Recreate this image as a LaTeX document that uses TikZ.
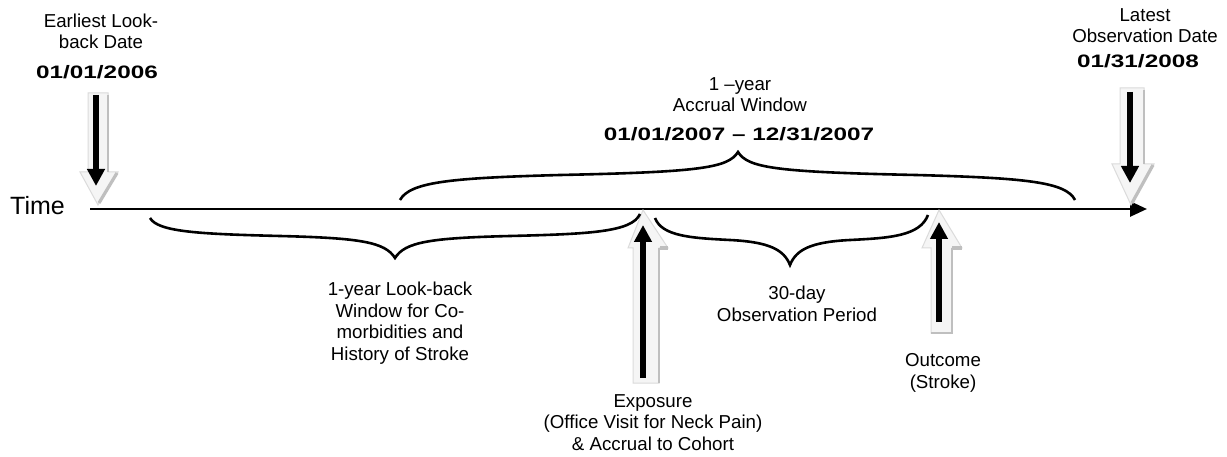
\documentclass[tikz,border=0pt]{standalone}
\usepackage{fontspec}
\setmainfont{Liberation Sans}
\newfontfamily\datefont[FakeStretch=1.35]{Liberation Sans}
\usetikzlibrary{arrows.meta}
\tikzset{
 lbl/.style={font=\fontsize{18.7}{21.5}\selectfont, align=center, inner sep=0pt, anchor=base},
 datelbl/.style={font=\datefont\bfseries\fontsize{18}{21}\selectfont, inner sep=0pt, anchor=base},
 timelbl/.style={font=\fontsize{25}{28}\selectfont, inner sep=0pt, anchor=base west},
 timeline/.style={line width=2.8pt, -{Triangle[length=17pt,width=15pt]}},
 brace/.style={line width=2.6pt},
 blkarrow/.style={line width=5.5pt, -{Triangle[length=17pt,width=17pt]}},
 shadowfill/.style={fill=gray!8, draw=gray!28, line width=1pt},
 shadowedge/.style={draw=gray!50, line width=1.4pt},
 shadowedgeb/.style={draw=gray!50, line width=3.2pt}
}
\begin{document}
\begin{tikzpicture}[x=1pt,y=-1pt]
\useasboundingbox[fill=white] (0,0) rectangle (1227,457);

% labels (anchor = baseline of last line)
\node[timelbl] (time) at (10,215) {Time};
\node[lbl] (earliest) at (101,49) {Earliest Look-\\back Date};
\node[datelbl] (d2006) at (97,79) {01/01/2006};
\node[lbl] (latest) at (1145,43) {Latest\\Observation Date};
\node[datelbl] (d2008) at (1138,68) {01/31/2008};
\node[lbl] (accrual) at (740,112) {1 –year\\Accrual Window};
\node[datelbl] (d2007) at (739,141) {01/01/2007 – 12/31/2007};
\node[lbl] (lookback) at (400,360) {1-year Look-back\\Window for Co-\\morbidities and\\History of Stroke};
\node[lbl] (obs) at (797,321) {30-day\\Observation Period};
\node[lbl] (outcome) at (943,388) {Outcome\\(Stroke)};
\node[lbl] (exposure) at (653,450) {Exposure\\(Office Visit for Neck Pain)\\\& Accrual to Cohort};

% timeline
\coordinate (t0) at (90,209);
\coordinate (t1) at (1147,209);
\draw[timeline] (t0) -- (t1);

% shadow block arrows (down)
\draw[shadowfill] (88,93) -- (108,93) -- (108,172) -- (118,172) -- (98,205) -- (80,172) -- (88,172) -- cycle;
\draw[shadowedge] (108,95) -- (108,172);
\draw[shadowedgeb] (117,173) -- (99,203);
\draw[shadowfill] (1120,88) -- (1144,88) -- (1144,164) -- (1154,164) -- (1131,205) -- (1112,164) -- (1120,164) -- cycle;
\draw[shadowedge] (1144,90) -- (1144,164);
\draw[shadowedgeb] (1153,165) -- (1132,203);

% shadow block arrows (up)
\draw[shadowfill] (643,210) -- (668,248) -- (659,248) -- (659,383) -- (633,383) -- (633,248) -- (628,248) -- cycle;
\draw[shadowedge] (659,248) -- (659,383);
\draw[shadowedgeb] (660,248) -- (668,248);
\draw[shadowfill] (939,210) -- (962,248) -- (952,248) -- (952,333) -- (931,333) -- (931,248) -- (922,248) -- cycle;
\draw[shadowedge] (952,248) -- (952,333) -- (931,333);
\draw[shadowedgeb] (952,248) -- (962,248);

% black arrows
\coordinate (ea) at (96,95);   \coordinate (eb) at (96,186);
\coordinate (la) at (1130,92); \coordinate (lb) at (1130,183);
\coordinate (xa) at (643,378); \coordinate (xb) at (643,225);
\coordinate (oa) at (939,322); \coordinate (ob) at (939,222);
\draw[blkarrow] (ea) -- (eb);
\draw[blkarrow] (la) -- (lb);
\draw[blkarrow] (xa) -- (xb);
\draw[blkarrow] (oa) -- (ob);

% braces
\draw[brace] (400,200) .. controls (410,182) and (450,178) .. (560,175)
  .. controls (700,172) and (728,168) .. (738,152)
  .. controls (748,168) and (776,172) .. (916,175)
  .. controls (1026,178) and (1066,182) .. (1075,200);
\draw[brace] (150,218) .. controls (158,232) and (200,234) .. (280,236)
  .. controls (360,238) and (385,242) .. (395,258)
  .. controls (405,242) and (430,238) .. (510,236)
  .. controls (590,234) and (632,232) .. (640,214);
\draw[brace] (655,218) .. controls (662,236) and (690,238) .. (730,240)
  .. controls (770,242) and (784,250) .. (790,265)
  .. controls (796,250) and (810,242) .. (850,240)
  .. controls (890,238) and (920,236) .. (928,215);
\end{tikzpicture}
\end{document}
